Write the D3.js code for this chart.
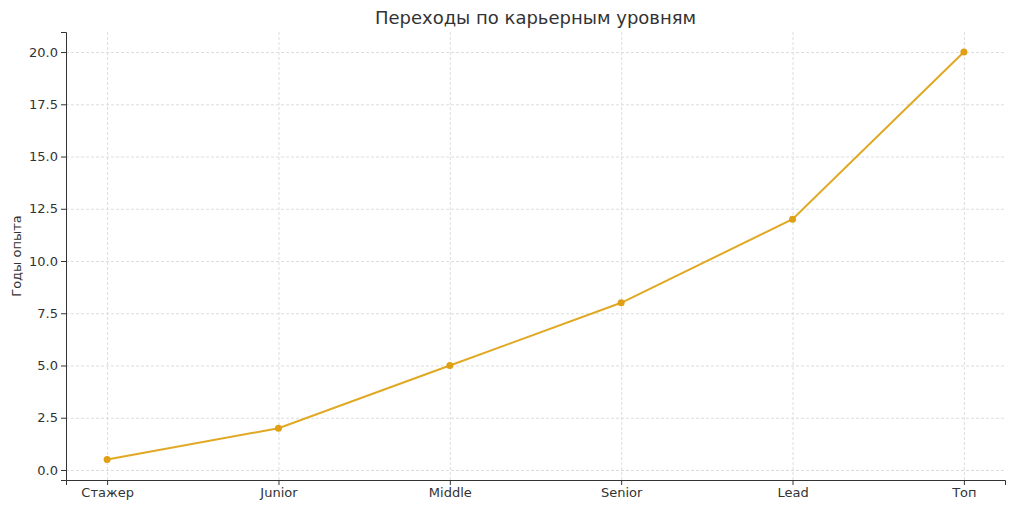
<!DOCTYPE html>
<html lang="ru">
<head>
<meta charset="UTF-8">
<script src="https://d3js.org/d3.v7.min.js"></script>
<style>
  body { margin: 0; background: #fff; }
  text { font-family: "DejaVu Sans", sans-serif; fill: #333; }
  .grid line { stroke: #ddd; stroke-dasharray: 3,2; }
  .grid .domain { display: none; }
  .axis .domain, .axis line { stroke: #333; }
</style>
</head>
<body>
<svg id="chart" width="1024" height="511"></svg>
<script>
const levels = ["Стажер", "Junior", "Middle", "Senior", "Lead", "Топ"];
const years = [0.5, 2, 5, 8, 12, 20];
const yTicks = [0, 2.5, 5, 7.5, 10, 12.5, 15, 17.5, 20];

const svg = d3.select("#chart");
const margin = { top: 32, right: 19, bottom: 31, left: 66 };
const w = 1024 - margin.left - margin.right;
const h = 511 - margin.top - margin.bottom;
const g = svg.append("g").attr("transform", `translate(${margin.left},${margin.top})`);

const x = d3.scalePoint().domain(levels).range([0, w]).padding(0.24);
const y = d3.scaleLinear().domain([-0.48, 20.96]).range([h, 0]);

// gridlines
g.append("g").attr("class", "grid")
  .call(d3.axisLeft(y).tickValues(yTicks).tickSize(-w).tickFormat(""));
g.append("g").attr("class", "grid")
  .attr("transform", `translate(0,${h})`)
  .call(d3.axisBottom(x).tickSize(-h).tickFormat(""));

// axes
g.append("g").attr("class", "axis")
  .call(d3.axisLeft(y).tickValues(yTicks).tickFormat(d3.format(".1f")).tickSize(5))
  .selectAll("text").style("font-size", "13px");
g.append("g").attr("class", "axis")
  .attr("transform", `translate(0,${h})`)
  .call(d3.axisBottom(x).tickSize(5))
  .selectAll("text").style("font-size", "13px");

const line = d3.line().x((d, i) => x(levels[i])).y(d => y(d));
g.append("path").datum(years)
  .attr("fill", "none").attr("stroke", "#e0a823").attr("stroke-width", 2)
  .attr("d", line);
g.selectAll("circle.pt").data(years).join("circle")
  .attr("class", "pt")
  .attr("cx", (d, i) => x(levels[i])).attr("cy", d => y(d))
  .attr("r", 3.5).attr("fill", "#e0a015");

svg.append("text").attr("x", margin.left + w / 2).attr("y", 24)
  .attr("text-anchor", "middle").style("font-size", "18px").text("Переходы по карьерным уровням");
svg.append("text").attr("transform", `translate(21,${margin.top + h / 2}) rotate(-90)`)
  .attr("text-anchor", "middle").style("font-size", "13px").text("Годы опыта");
</script>
</body>
</html>
